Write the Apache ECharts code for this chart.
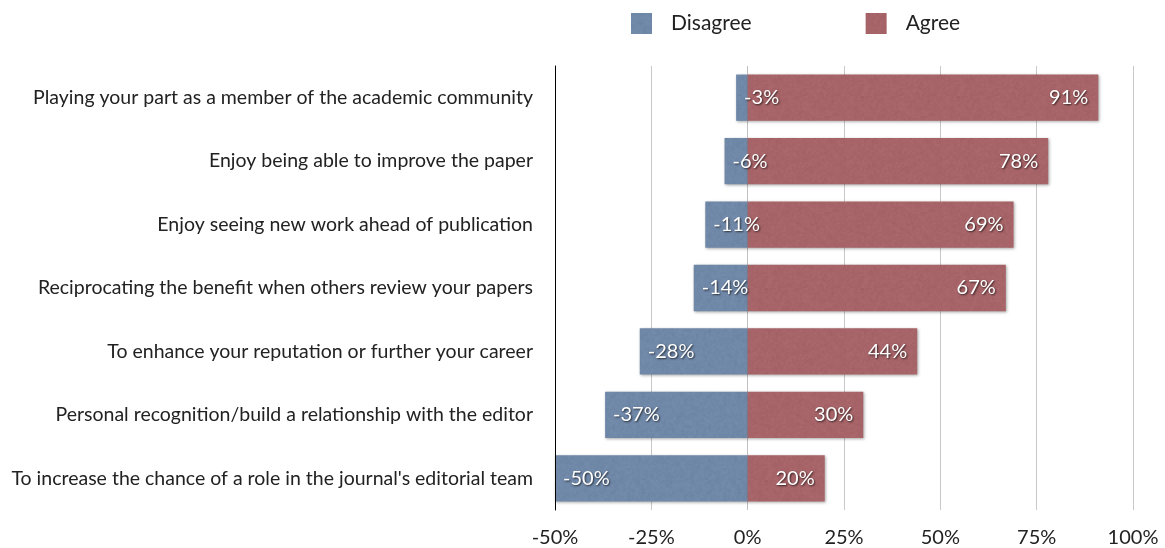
<!DOCTYPE html>
<html>
<head>
<meta charset="utf-8">
<style>
  html, body { margin: 0; padding: 0; background: #fff; }
  #chart { width: 1165px; height: 548px; }
</style>
<script src="https://cdn.jsdelivr.net/npm/echarts@6/dist/echarts.min.js"></script>
</head>
<body>
<div id="chart"></div>
<script>
// Reasons for reviewing: share of respondents who disagree / agree
const categories = [
  "Playing your part as a member of the academic community",
  "Enjoy being able to improve the paper",
  "Enjoy seeing new work ahead of publication",
  "Reciprocating the benefit when others review your papers",
  "To enhance your reputation or further your career",
  "Personal recognition/build a relationship with the editor",
  "To increase the chance of a role in the journal's editorial team"
];
const disagree = [-3, -6, -11, -14, -28, -37, -50];
const agree = [91, 78, 69, 67, 44, 30, 20];

const FONT = "Lato, 'Open Sans', sans-serif";
const BLUE = [113, 137, 169];
const RED = [168, 101, 105];

// Soft paper-like grain for the bar fills (deterministic hash, tiled)
function grainPattern(rgb, seed) {
  const small = 48, size = 96;
  let s = seed >>> 0;
  const next = () => { s = (s * 1664525 + 1013904223) >>> 0; return s / 4294967296; };
  const fill = (w, amp) => {
    const c = document.createElement("canvas");
    c.width = w; c.height = w;
    const ctx = c.getContext("2d");
    const img = ctx.createImageData(w, w);
    for (let i = 0; i < w * w; i++) {
      const d = (next() + next() - 1) * amp;
      img.data[i * 4] = rgb[0] + d;
      img.data[i * 4 + 1] = rgb[1] + d;
      img.data[i * 4 + 2] = rgb[2] + d;
      img.data[i * 4 + 3] = 255;
    }
    ctx.putImageData(img, 0, 0);
    return c;
  };
  const coarse = fill(small, 10);
  const fine = fill(size, 6);
  const out = document.createElement("canvas");
  out.width = size; out.height = size;
  const octx = out.getContext("2d");
  octx.imageSmoothingEnabled = true;
  octx.drawImage(coarse, 0, 0, size, size);
  octx.globalAlpha = 0.45;
  octx.drawImage(fine, 0, 0);
  return { image: out, repeat: "repeat" };
}
const css = rgb => "rgb(" + rgb.join(",") + ")";

const labelStyle = {
  show: true,
  color: "#fff",
  fontFamily: FONT,
  fontSize: 20,
  textShadowColor: "rgba(0,0,0,0.7)",
  textShadowBlur: 2,
  textShadowOffsetX: 1,
  textShadowOffsetY: 1,
  formatter: p => p.value + "%"
};

const barShadow = {
  shadowColor: "rgba(0,0,0,0.35)",
  shadowBlur: 3,
  shadowOffsetX: 1,
  shadowOffsetY: 1
};

const chart = echarts.init(document.getElementById("chart"), null, { renderer: "canvas" });
chart.setOption({
  animation: false,
  backgroundColor: "#fff",
  color: [css(BLUE), css(RED)],
  legend: {
    top: 13,
    left: 631,
    padding: 0,
    icon: "rect",
    itemWidth: 21,
    itemHeight: 21,
    itemGap: 114,
    textStyle: { fontFamily: FONT, fontSize: 21, color: "#222", padding: [3, 0, 0, 14] },
    data: ["Disagree", "Agree"]
  },
  grid: { left: 555, right: 32, top: 66, bottom: 34, containLabel: false },
  xAxis: {
    type: "value",
    min: -50,
    max: 100,
    interval: 25,
    axisLine: { show: false },
    axisTick: { show: false },
    splitLine: { show: true, lineStyle: { color: "#c8c8c8", width: 1 } },
    axisLabel: {
      formatter: v => v + "%",
      fontFamily: FONT,
      fontSize: 20,
      color: "#222",
      margin: 18
    }
  },
  yAxis: {
    type: "category",
    inverse: true,
    data: categories,
    z: 6,
    axisLine: { show: true, onZero: false, lineStyle: { color: "#000", width: 1 } },
    axisTick: { show: false },
    axisLabel: {
      fontFamily: FONT,
      fontSize: 19.5,
      color: "#222",
      margin: 22
    }
  },
  series: [
    {
      name: "Disagree",
      type: "bar",
      data: disagree,
      barWidth: "73%",
      barGap: "-100%",
      itemStyle: Object.assign({ color: grainPattern(BLUE, 17) }, barShadow),
      label: Object.assign({}, labelStyle, { position: "insideLeft", distance: 8 }),
      z: 2
    },
    {
      name: "Agree",
      type: "bar",
      data: agree,
      barWidth: "73%",
      itemStyle: Object.assign({ color: grainPattern(RED, 91) }, barShadow),
      label: Object.assign({}, labelStyle, { position: "insideRight", distance: 10 }),
      markLine: {
        silent: true,
        symbol: "none",
        label: { show: false },
        lineStyle: { color: "rgba(190,190,190,0.75)", width: 1, type: "solid" },
        data: [{ xAxis: 0 }],
        z: 1
      },
      z: 2
    }
  ]
});
</script>
</body>
</html>
